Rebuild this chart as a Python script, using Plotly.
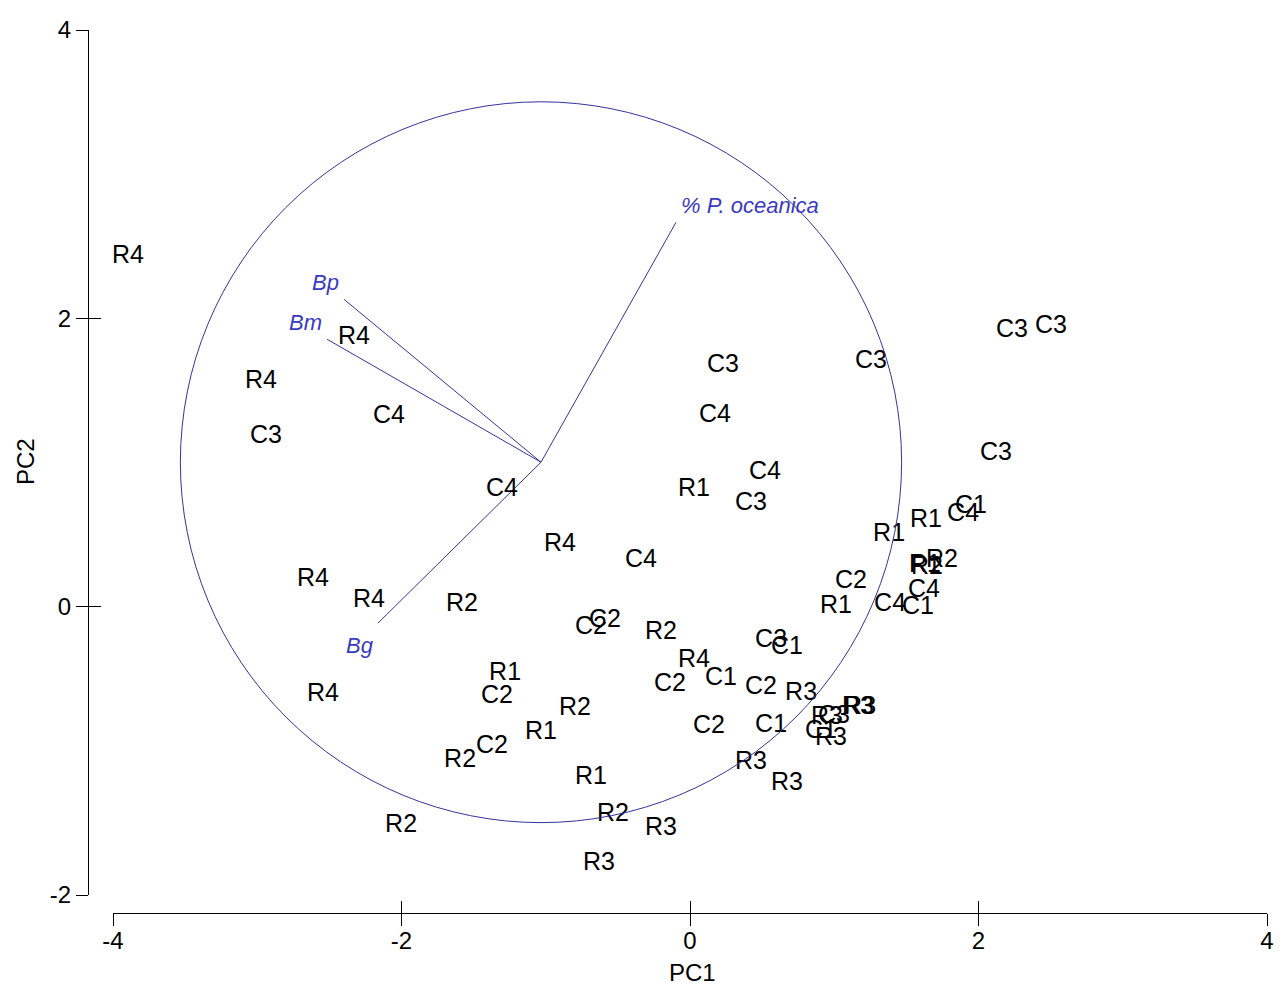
import plotly.graph_objects as go

# ---- sample scores (PC1, PC2) ----
labels = ["R4", "R4", "R4", "C3", "C4", "C4", "R4", "C4", "R4", "R4",
          "R2", "R4", "R1", "C2", "R2", "R1", "C2", "R2", "R1", "R2",
          "R2", "R3", "R3", "C2", "C2", "R2", "R4", "C2", "C1", "C2",
          "C3", "C1", "R3", "C2", "C1", "R3", "R3", "R3", "C3", "R3",
          "R3", "C1", "R3", "C3", "C4", "C3", "R1", "C4", "C3", "C3",
          "C3", "C3", "C4", "C1", "R1", "R1", "R2", "R1", "R2", "C4",
          "C1", "C4", "C2", "R1"]
pc1 = [-3.896, -2.329, -2.974, -2.939, -2.087, -1.303, -0.901, -0.340, -2.614, -2.225,
       -1.581, -2.544, -1.282, -1.338, -0.797, -1.033, -1.373, -1.594, -0.686, -2.003,
       -0.534, -0.201, -0.631, -0.686, -0.589, -0.201, 0.028, -0.139, 0.215, 0.492,
       0.562, 0.672, 0.770, 0.132, 0.562, 0.423, 0.672, 0.950, 0.998, 1.165,
       1.179, 0.908, 0.977, 0.229, 0.173, 1.255, 0.028, 0.520, 0.423, 2.232,
       2.503, 2.121, 1.893, 1.948, 1.636, 1.380, 1.747, 1.629, 1.643, 1.622,
       1.581, 1.387, 1.116, 1.012]
pc2 = [2.424, 1.862, 1.557, 1.182, 1.314, 0.808, 0.427, 0.316, 0.184, 0.038,
       0.010, -0.614, -0.468, -0.628, -0.711, -0.877, -0.974, -1.071, -1.189, -1.522,
       -1.446, -1.543, -1.786, -0.149, -0.100, -0.184, -0.378, -0.544, -0.503, -0.565,
       -0.239, -0.288, -0.607, -0.836, -0.829, -1.085, -1.231, -0.773, -0.766, -0.704,
       -0.704, -0.870, -0.919, 1.668, 1.321, 1.696, 0.808, 0.926, 0.711, 1.911,
       1.945, 1.058, 0.641, 0.690, 0.593, 0.496, 0.322, 0.281, 0.267, 0.107,
       -0.010, 0.010, 0.170, -0.003]

# ---- vector overlay ----
origin_x, origin_y = -1.033, 1.002
circle_r = 2.5
vec_names = ["<i>% P. oceanica</i>", "<i>Bp</i>", "<i>Bm</i>", "<i>Bg</i>"]
vec_x = [-0.097, -2.399, -2.516, -2.163]
vec_y = [2.666, 2.132, 1.855, -0.114]

# ---- axes ----
x_ticks = [-4, -2, 0, 2, 4]
y_ticks = [-2, 0, 2, 4]
x_ticktext = ["-4", "-2", "0", "2", "4"]
y_ticktext = ["-2", "0", "2", "4"]

W, H = 1285, 987
BLUE = "#34349a"
LBLUE = "#3a3ac0"
FONT = "Liberation Sans, Arial, sans-serif"

fig = go.Figure()

# vectors
vx, vy = [], []
for ex, ey in zip(vec_x, vec_y):
    vx += [origin_x, ex, None]
    vy += [origin_y, ey, None]
fig.add_trace(go.Scatter(x=vx, y=vy, mode="lines",
                         line=dict(color=BLUE, width=1), hoverinfo="skip",
                         showlegend=False))

# sample labels
fig.add_trace(go.Scatter(x=pc1, y=pc2, mode="text", text=labels,
                         textposition="middle center",
                         textfont=dict(family=FONT, size=25, color="black"),
                         cliponaxis=False, showlegend=False))

# dummy trace for the overlay axes (crossing ticks)
fig.add_trace(go.Scatter(x=[None], y=[None], xaxis="x2", yaxis="y2",
                         mode="markers", showlegend=False))

# correlation circle
fig.add_shape(type="circle", xref="x", yref="y",
              x0=origin_x - circle_r, x1=origin_x + circle_r,
              y0=origin_y - circle_r, y1=origin_y + circle_r,
              line=dict(color=BLUE, width=1))

# vector labels
offsets = [dict(xanchor="left", yanchor="bottom", xshift=3, yshift=2),
           dict(xanchor="right", yanchor="bottom", xshift=-3, yshift=2),
           dict(xanchor="right", yanchor="bottom", xshift=-3, yshift=2),
           dict(xanchor="right", yanchor="top", xshift=-2, yshift=-8)]
for name, ex, ey, off in zip(vec_names, vec_x, vec_y, offsets):
    fig.add_annotation(x=ex, y=ey, xref="x", yref="y", text=name,
                       showarrow=False,
                       font=dict(family=FONT, size=22, color=LBLUE), **off)

# axis titles
fig.add_annotation(x=692 / W, y=1 - 972 / H, xref="paper", yref="paper",
                   xanchor="center", yanchor="middle",
                   text="PC1", showarrow=False,
                   font=dict(family=FONT, size=24, color="black"))
fig.add_annotation(x=25 / W, y=1 - 462 / H, xref="paper", yref="paper",
                   xanchor="center", yanchor="middle",
                   text="PC2", showarrow=False, textangle=-90,
                   font=dict(family=FONT, size=24, color="black"))

xdom = [113 / W, 1267 / W]
ydom = [1 - 895 / H, 1 - 30 / H]
xpos = 1 - 913 / H
ypos = 88 / W

common = dict(showgrid=False, zeroline=False, tickcolor="black", tickwidth=1,
              ticklen=12, automargin=False,
              tickfont=dict(family=FONT, size=24, color="black"))

fig.update_layout(
    template="none",
    width=W, height=H,
    margin=dict(l=0, r=0, t=0, b=0, pad=0, autoexpand=False),
    paper_bgcolor="white", plot_bgcolor="white",
    xaxis=dict(domain=xdom, range=[-4, 4], anchor="free", position=xpos,
               showline=True, linecolor="black", linewidth=1, ticks="outside",
               tickvals=x_ticks, ticktext=x_ticktext, ticklabelstandoff=-6,
               **common),
    yaxis=dict(domain=ydom, range=[-2, 4], anchor="free", position=ypos,
               showline=True, linecolor="black", linewidth=1, ticks="outside",
               tickvals=y_ticks, ticktext=y_ticktext, **common),
    xaxis2=dict(overlaying="x", range=[-4, 4], anchor="free", position=xpos,
                showline=False, ticks="inside", tickvals=x_ticks,
                showticklabels=False, **common),
    yaxis2=dict(overlaying="y", range=[-2, 4], anchor="free", position=ypos,
                showline=False, ticks="inside", tickvals=y_ticks,
                showticklabels=False, **common),
    showlegend=False,
)

fig.write_html("out.html")
